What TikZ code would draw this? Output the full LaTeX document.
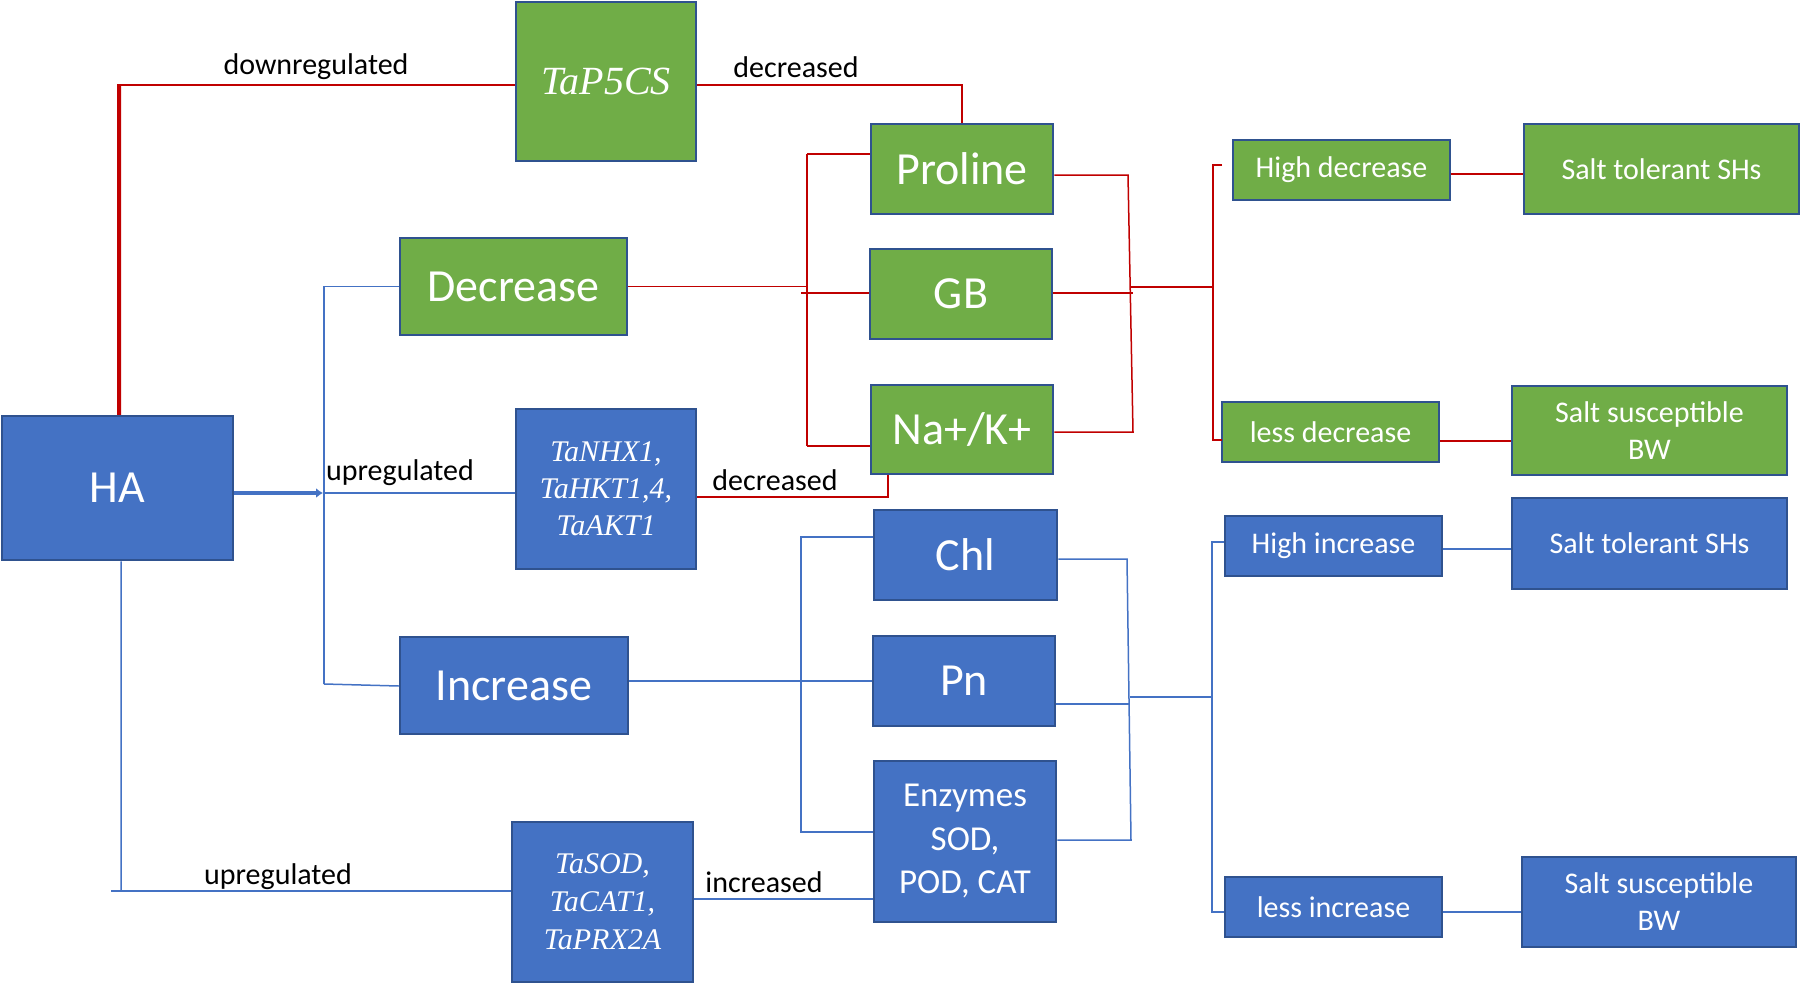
\documentclass[tikz,border=0pt]{standalone}
\usepackage{fontspec}
\setmainfont{Carlito}
\newfontfamily\genefont{Liberation Serif}
\usetikzlibrary{arrows.meta,calc}
\definecolor{ogreen}{HTML}{70AD47}
\definecolor{oblue}{HTML}{4472C4}
\definecolor{oborder}{HTML}{2F528F}
\definecolor{ored}{HTML}{C00000}
\begin{document}
\begin{tikzpicture}[x=1pt,y=-1pt,
  box/.style={draw=oborder, line width=2.5pt, text=white, align=center, inner sep=0pt},
  gbox/.style={box, fill=ogreen},
  bbox/.style={box, fill=oblue},
  sz/.style 2 args={minimum width=#1pt, minimum height=#2pt},
  big/.style={font=\fontsize{46}{56}\selectfont},
  mid/.style={font=\fontsize{30}{37}\selectfont},
  enzf/.style={font=\fontsize{35}{43.5}\selectfont},
  gene/.style={font=\genefont\itshape\fontsize{30}{37}\selectfont},
  lab/.style={font=\fontsize{30}{36}\selectfont, text=black, inner sep=0pt},
  rl/.style={draw=ored, line width=1.5pt},
  bl/.style={draw=oblue, line width=1.5pt},
  ]
\useasboundingbox (0,0) rectangle (1802,985);

% nodes
\node[gbox, sz={180}{159}, font=\genefont\itshape\fontsize{40}{48}\selectfont] (tap5cs) at (606,81.5) {TaP5CS};
\node[gbox, sz={227}{97}, big] (decr) at (513.5,286.5) {Decrease};
\node[bbox, sz={231}{144}, big] (ha) at (117.5,488) {HA};
\node[bbox, sz={180}{160}, gene] (tanhx) at (606,489) {TaNHX1,\\TaHKT1,4,\\TaAKT1};
\node[bbox, sz={228}{97}, big] (incr) at (514,685.5) {Increase};
\node[bbox, sz={181}{160}, font=\genefont\itshape\fontsize{30}{38}\selectfont] (tasod) at (602.5,902) {TaSOD,\\TaCAT1,\\TaPRX2A};

\node[gbox, sz={182}{90}, big] (proline) at (962,169) {Proline};
\node[gbox, sz={182}{90}, big] (gb) at (961,294) {GB};
\node[gbox, sz={182}{89}, big] (nak) at (962,429.5) {Na+/K+};
\node[bbox, sz={183}{90}, big] (chl) at (965.5,555) {Chl};
\node[bbox, sz={182}{90}, big] (pn) at (964,681) {Pn};
\node[bbox, sz={182}{161}, enzf] (enz) at (965,841.5) {Enzymes\\SOD,\\POD, CAT};

\node[gbox, sz={217}{60}, mid] (hdec) at (1341.5,170) {High decrease};
\node[gbox, sz={275}{90}, mid] (stol1) at (1661.5,169) {Salt tolerant SHs};
\node[gbox, sz={217}{60}, mid] (ldec) at (1330.5,432) {less decrease};
\node[gbox, sz={275}{89}, mid] (ssus1) at (1649.5,430.5) {Salt susceptible\\BW};
\node[bbox, sz={217}{60}, mid] (hinc) at (1333.5,546) {High increase};
\node[bbox, sz={275}{91}, mid] (stol2) at (1649.5,543.5) {Salt tolerant SHs};
\node[bbox, sz={217}{60}, mid] (linc) at (1333.5,907) {less increase};
\node[bbox, sz={274}{90}, mid] (ssus2) at (1659,902) {Salt susceptible\\BW};

% labels
\node[lab] (l1) at (316,67) {downregulated};
\node[lab] (l2) at (796,67) {decreased};
\node[lab] (l3) at (400,473) {upregulated};
\node[lab] (l4) at (775,480) {decreased};
\node[lab] (l5) at (278,877) {upregulated};
\node[lab] (l6) at (764,882) {increased};

% ---------- red connectors ----------
\coordinate (rc) at (119,85);
\draw[draw=ored, line width=4pt] ($(ha.north west)!0.507!(ha.north east)$) -- (rc);
\draw[rl] ($(rc)+(-2,0)$) -- (rc -| tap5cs.west);
\draw[rl] (tap5cs.east |- rc) -| (proline.north);

\coordinate (dv) at (807,0);
\draw[rl] (decr.east) -- (decr.east -| dv);
\coordinate (dvt) at (807,154);
\coordinate (dvb) at (807,446);
\draw[rl] (dvt) -- (dvb);
\draw[rl] (dvt) -- (dvt -| proline.west);
\draw[rl] (801,293) -- (gb.west |- 0,293);
\draw[rl] (dvb) -- (dvb -| nak.west);

\coordinate (tnx) at ($(tanhx.north east)!0.55!(tanhx.south east)$);
\coordinate (nkb) at ($(nak.south west)!0.1!(nak.south east)$);
\draw[rl] (tnx) -- (tnx -| nkb) -- (nkb);

\coordinate (pv) at (1131,287);
\draw[rl] (proline.east |- 0,175) -- (1128,175) -- (1133,432) -- (nak.east |- 0,432);
\draw[rl] (gb.east |- 0,293) -- (1133,293);
\coordinate (hv) at (1213,287);
\draw[rl] (pv) -- (hv);
\coordinate (hvt) at (1213,165);
\coordinate (hvb) at (1213,440);
\draw[rl] (1222,165) -- (hvt) -- (hvb) -- (1222,440);
\draw[rl] (hdec.east |- 0,174) -- (stol1.west |- 0,174);
\draw[rl] (ldec.east |- 0,441) -- (ssus1.west |- 0,441);

% ---------- blue connectors ----------
\coordinate (bv) at (323,493);
\draw[draw=oblue, line width=4pt, -{Latex[length=7pt,width=10pt]}] (ha.east |- bv) -- (bv);
\draw[bl] (bv) -- (bv -| tanhx.west);
\coordinate (bx) at (324,0);
\draw[bl] (decr.west) -- (decr.west -| bx) -- (324,684) ;
\draw[bl] (324,684) -- (incr.west |- 0,686);

\draw[bl] (incr.east |- 0,681) -- (pn.west |- 0,681);
\coordinate (iv) at (801,0);
\draw[bl] (chl.west |- 0,537) -- (801,537) -- (801,832) -- (enz.west |- 0,832);

\coordinate (hb) at (111,891);
\draw[bl] ($(ha.south west)!0.515!(ha.south east)$) -- (121,891);
\draw[bl] (hb) -- (hb -| tasod.west);
\draw[bl] (tasod.east |- 0,899) -- (enz.west |- 0,899);

\draw[bl] (chl.east |- 0,559) -- (1127,559) -- (1131,840) -- (enz.east |- 0,840);
\draw[bl] (pn.east |- 0,704) -- (1130,704);
\draw[bl] (1130,697) -- (1212,697);
\draw[bl] (1224,542) -- (1212,542) -- (1212,912) -- (1224,912);
\draw[bl] (hinc.east |- 0,549) -- (stol2.west |- 0,549);
\draw[bl] (linc.east |- 0,912) -- (ssus2.west |- 0,912);
\end{tikzpicture}
\end{document}
